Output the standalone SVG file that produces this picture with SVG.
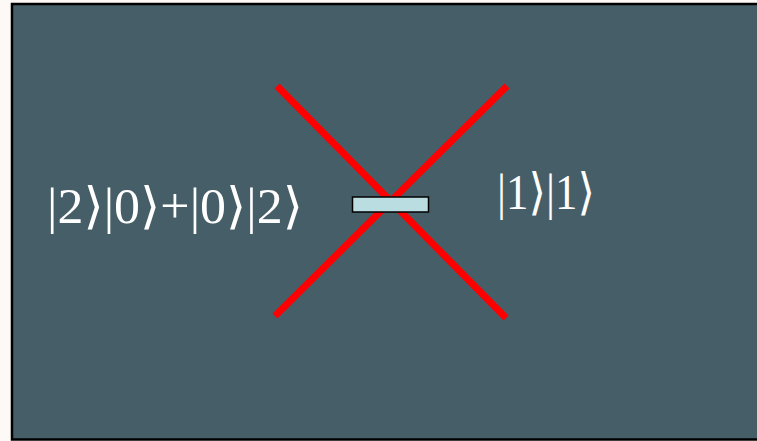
<svg xmlns="http://www.w3.org/2000/svg" width="757" height="441" viewBox="0 0 757 441">
<style>
.lbl{font-family:"Liberation Serif","DejaVu Serif",serif;font-size:50px;fill:#ffffff}
.ray{stroke:#ff0000;stroke-width:7;stroke-linecap:butt}
</style>
<rect x="0" y="0" width="757" height="441" fill="#fdf9f6"/>
<rect id="panel" x="12" y="4" width="760" height="435.5" fill="#465e68" stroke="#000000" stroke-width="2.5"/>
<g id="connectors">
<line class="ray" x1="277" y1="86" x2="506" y2="318"/>
<line class="ray" x1="507" y1="86" x2="275" y2="316"/>
</g>
<g id="splitter">
<rect x="352.5" y="197" width="76" height="15" fill="#b9dde0" stroke="#000000" stroke-width="1.5"/>
</g>
<g id="input">
<text class="lbl" x="47" y="223" textLength="256" lengthAdjust="spacingAndGlyphs">|2⟩|0⟩+|0⟩|2⟩</text>
</g>
<g id="output">
<text class="lbl" x="497" y="209" textLength="98" lengthAdjust="spacingAndGlyphs">|1⟩|1⟩</text>
</g>
</svg>
